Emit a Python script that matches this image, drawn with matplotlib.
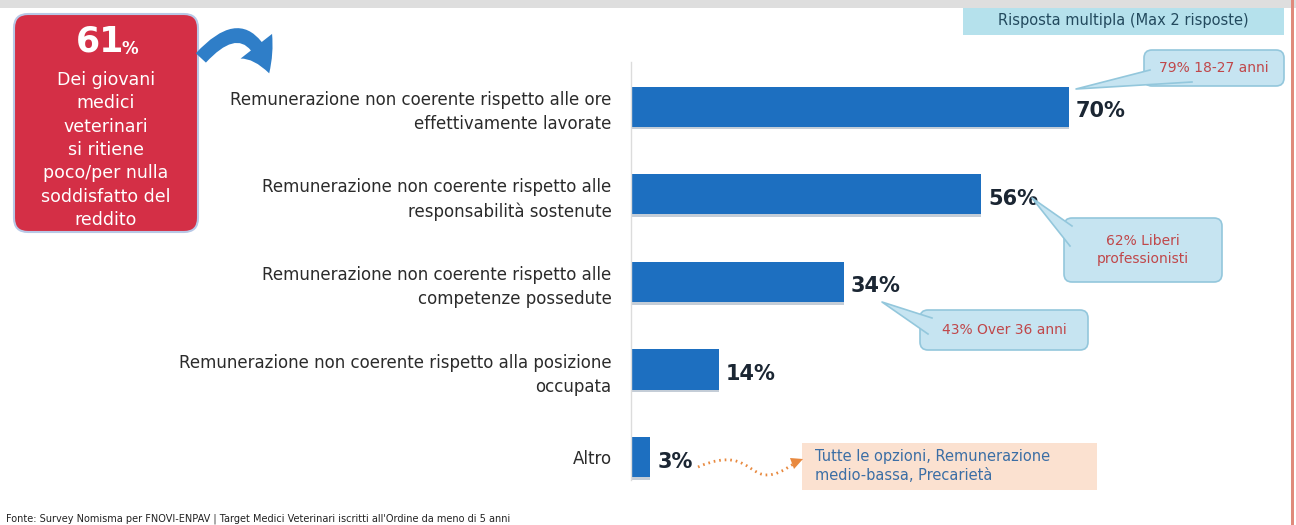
import numpy as np
import matplotlib
matplotlib.use("Agg")
import matplotlib.pyplot as plt
from matplotlib.patches import FancyBboxPatch, Polygon, FancyArrowPatch, PathPatch, Rectangle
from matplotlib.path import Path

plt.rcParams['font.family'] = ['DejaVu Sans']

categories = [
    "Remunerazione non coerente rispetto alle ore\neffettivamente lavorate",
    "Remunerazione non coerente rispetto alle\nresponsabilità sostenute",
    "Remunerazione non coerente rispetto alle\ncompetenze possedute",
    "Remunerazione non coerente rispetto alla posizione\noccupata",
    "Altro",
]
values = [70, 56, 34, 14, 3]
value_labels = ["70%", "56%", "34%", "14%", "3%"]
callouts = ["79% 18-27 anni", "62% Liberi\nprofessionisti", "43% Over 36 anni"]
altro_note = "Tutte le opzioni, Remunerazione\nmedio-bassa, Precarietà"
box_lines = "Dei giovani\nmedici\nveterinari\nsi ritiene\npoco/per nulla\nsoddisfatto del\nreddito"
footer = "Fonte: Survey Nomisma per FNOVI-ENPAV | Target Medici Veterinari iscritti all'Ordine da meno di 5 anni"

W, H = 1296, 525
fig = plt.figure(figsize=(W / 100, H / 100), dpi=100)

BLUE = "#1d6fc0"
DARK = "#1b2633"

# main bar axes
ax = fig.add_axes([631 / W, 1 - 480 / H, 625 / W, 418 / H])
y = np.arange(len(values))
ax.barh(y + 0.03, values, height=0.46, color="#8a9db0", alpha=0.5, zorder=1)
ax.barh(y, values, height=0.46, color=BLUE, zorder=2)
ax.set_xlim(0, 100)
ax.set_ylim(4.26, -0.51)
ax.set_yticks(y)
ax.set_yticklabels(categories, fontsize=12, color="#2b2b2b", linespacing=1.45)
ax.tick_params(axis="y", length=0, pad=14)
ax.set_xticks([])
for s in ["top", "right", "bottom"]:
    ax.spines[s].set_visible(False)
ax.spines["left"].set_color("#dcdcdc")
ax.spines["left"].set_linewidth(1)
for yi, v, lab in zip(y, values, value_labels):
    ax.text(v + 1.2, yi + 0.05, lab, va="center", ha="left", fontsize=15,
            fontweight="bold", color=DARK)

# overlay in pixel coordinates for decorations
ov = fig.add_axes([0, 0, 1, 1], zorder=5)
ov.set_xlim(0, W)
ov.set_ylim(H, 0)
ov.axis("off")
ov.patch.set_alpha(0)

# top grey band and right red line
ov.add_patch(Rectangle((0, 0), W, 8, color="#dedede", lw=0))
ov.add_patch(Rectangle((1291, 0), 3, H, color="#e08a7c", lw=0))

# multiple answer tag
ov.add_patch(Rectangle((963, 8), 321, 27, color="#b5e1ec", lw=0))
ov.text(1123, 20, "Risposta multipla (Max 2 risposte)", ha="center", va="center",
        fontsize=10.5, color="#234a5e")

# red box
ov.add_patch(FancyBboxPatch((18, 18), 176, 210, boxstyle="round,pad=4,rounding_size=14",
                            fc="#d42f46", ec="#b8c8e6", lw=1.5))
ov.text(100, 42, "61", ha="center", va="center", fontsize=25, fontweight="bold", color="white")
ov.text(122, 49, "%", ha="left", va="center", fontsize=12, fontweight="bold", color="white")
ov.text(106, 150, box_lines, ha="center", va="center", fontsize=12.5, color="white",
        linespacing=1.38)

# curved blue arrow
ov.add_patch(FancyArrowPatch((199, 60), (270, 76), connectionstyle="arc3,rad=-0.9",
                             arrowstyle="simple,head_width=1.6,head_length=1.2,tail_width=0.55",
                             mutation_scale=18, color="#2f7ec8", lw=0))

# callouts
CB_FC, CB_EC, CB_TX = "#c6e4f1", "#93c7dc", "#c0474a"
boxes = [(1146, 52, 136, 32), (1066, 220, 154, 60), (922, 312, 164, 36)]
tails = [[(1150, 70), (1076, 89), (1192, 82)],
         [(1072, 226), (1032, 198), (1070, 246)],
         [(932, 318), (882, 302), (928, 334)]]
for (bx, by, bw, bh), tail, txt in zip(boxes, tails, callouts):
    ov.add_patch(FancyBboxPatch((bx, by), bw, bh, boxstyle="round,pad=2,rounding_size=8",
                                fc=CB_FC, ec=CB_EC, lw=1.2, zorder=2))
    ov.add_patch(Polygon(tail, closed=True, fc=CB_FC, ec="none", lw=0, zorder=3))
    tx, ty = zip(*tail)
    ov.plot(tx, ty, color=CB_EC, lw=1.2, zorder=3)
    ov.text(bx + bw / 2, by + bh / 2, txt, ha="center", va="center", fontsize=10,
            color=CB_TX, linespacing=1.35, zorder=4)

# "Altro" note box
ov.add_patch(Rectangle((802, 443), 295, 47, color="#fbe1d0", lw=0))
ov.text(815, 466, altro_note, ha="left", va="center", fontsize=10.5, color="#3b6ea5",
        linespacing=1.3)

# dotted orange arrow
verts = [(698, 467), (760, 440), (745, 500), (796, 462)]
ov.add_patch(PathPatch(Path(verts, [Path.MOVETO, Path.CURVE4, Path.CURVE4, Path.CURVE4]),
                       fc="none", ec="#e8893f", lw=2, ls=(0, (0.6, 1.4))))
ov.add_patch(Polygon([(790, 458), (803, 459), (794, 469)], closed=True, fc="#e8893f", lw=0))

ov.text(6, 519, footer, ha="left", va="center", fontsize=7, color="#222222")

fig.savefig("out.png", dpi=100)
